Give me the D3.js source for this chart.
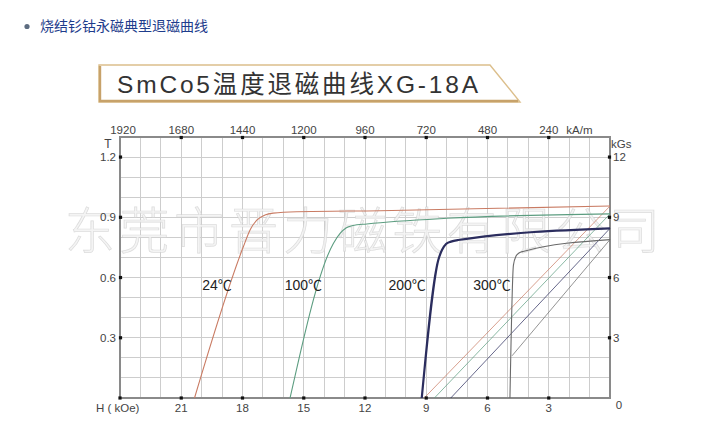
<!DOCTYPE html>
<html><head><meta charset="utf-8">
<script src="https://cdn.jsdelivr.net/npm/d3@7"></script>
<style>
html,body{margin:0;padding:0;background:#fff;}
svg{display:block;}
</style></head>
<body>
<svg id="c" width="722" height="439"></svg>
<script>
// ---- data ----
const hMajor = [24, 21, 18, 15, 12, 9, 6, 3, 0];
const topTickH = [24, 21, 18, 15, 12, 9, 6, 3];
const topTickLabels = ["1920", "1680", "1440", "1200", "960", "720", "480", "240"];
const bottomTickH = [21, 18, 15, 12, 9, 6, 3];
const bottomTickLabels = ["21", "18", "15", "12", "9", "6", "3"];
const leftTicks = [1.2, 0.9, 0.6, 0.3];
const leftTickLabels = ["1.2", "0.9", "0.6", "0.3"];
const rightTicksKGs = [12, 9, 6, 3];
const rightTickLabels = ["12", "9", "6", "3"];

const temps = ["24℃", "100℃", "200℃", "300℃"];
const tempLabelH = [19.25, 15.02, 9.94, 5.78];
const tempLabelB = [0.563, 0.563, 0.563, 0.563];

// intrinsic (J-H) demagnetization curves [H kOe, B T]
const intrinsic24 = [[20.35,0],[17.96,0.753],[17.63,0.837],[17.3,0.886],[16.9,0.911],[16.5,0.921],[15.34,0.928],[11.26,0.933],[0,0.956]];
const intrinsic100 = [[15.67,0],[13.55,0.77],[13.22,0.82],[12.93,0.847],[12.59,0.859],[11.91,0.867],[8.0,0.895],[0,0.917]];
const intrinsic200 = [[9.22,0],[8.41,0.687],[8.23,0.737],[8.03,0.767],[7.79,0.779],[7.44,0.787],[0,0.845]];
const intrinsic300 = [[4.9,0],[4.73,0.662],[4.6,0.707],[4.46,0.722],[4.26,0.73],[0,0.789]];
// normal (B-H) curves
const normal24 = [[9.1,0],[0,0.956]];
const normal100 = [[8.6,0],[0,0.917]];
const normal200 = [[7.8,0],[0,0.845]];
const normal300 = [[4.8,0.21],[0,0.789]];

const seriesColors = ["#c97b63", "#5c9d80", "#2b2d5e", "#6a6a6a"];
const seriesWidths = [1.1, 1.1, 2.2, 1.1];

// ---- drawing ----
const svg = d3.select("#c");
const x = d3.scaleLinear().domain([24, 0]).range([120, 610]);
const y = d3.scaleLinear().domain([0, 1.3]).range([398, 137]);
const sans = "'Liberation Sans', Arial, sans-serif";
const cjk = "'Noto Sans CJK SC', sans-serif";

// header
svg.append("circle").attr("cx", 27).attr("cy", 26.5).attr("r", 2.6).attr("fill", "#5d6c80");
svg.append("text").attr("x", 40).attr("y", 31).attr("font-family", cjk).attr("font-size", 14)
  .attr("fill", "#1e3c8c").text("烧结钐钴永磁典型退磁曲线");

// title banner
const banner = svg.append("g");
banner.append("path")
  .attr("d", "M99,65 L490,65 L520,102 L99,102 Z")
  .attr("fill", "#fff").attr("stroke", "#dcbf8c").attr("stroke-width", 1.4);
banner.append("path")
  .attr("d", "M100,66 L100,101 L518,101")
  .attr("fill", "none").attr("stroke", "#c7a26a").attr("stroke-width", 2.4);
banner.append("text").attr("x", 117).attr("y", 93)
  .attr("font-family", sans + ",'Noto Sans CJK SC'").attr("font-size", 24.5).attr("fill", "#333")
  .attr("textLength", 361).attr("lengthAdjust", "spacing")
  .text("SmCo5温度退磁曲线XG-18A");

// grid
const gridG = svg.append("g");
const vGrid = d3.range(0, 25, 1);
const hGrid = d3.range(0, 14, 1).map(d => d / 10);
gridG.selectAll("line.v").data(vGrid).join("line")
  .attr("x1", d => x(d)).attr("x2", d => x(d)).attr("y1", y(1.3)).attr("y2", y(0))
  .attr("stroke", "#cdcdcd").attr("stroke-width", 1).attr("shape-rendering", "crispEdges");
gridG.selectAll("line.h").data(hGrid).join("line")
  .attr("y1", d => y(d)).attr("y2", d => y(d)).attr("x1", x(24)).attr("x2", x(0))
  .attr("stroke", "#cdcdcd").attr("stroke-width", 1).attr("shape-rendering", "crispEdges");

// watermark (under curves)
svg.append("text").attr("x", 65).attr("y", 249)
  .attr("font-family", cjk).attr("font-weight", 300).attr("font-size", 50)
  .attr("textLength", 595).attr("lengthAdjust", "spacing")
  .attr("fill", "rgba(242,242,242,0.85)").attr("stroke", "rgba(205,205,205,0.65)").attr("stroke-width", 0.7)
  .text("东莞市晋力磁铁有限公司");

// frame
svg.append("rect").attr("x", x(24)).attr("y", y(1.3)).attr("width", x(0) - x(24)).attr("height", y(0) - y(1.3))
  .attr("fill", "none").attr("stroke", "#8a8a8a").attr("stroke-width", 1.2).attr("shape-rendering", "crispEdges");

// curves
const line = d3.line().x(d => x(d[0])).y(d => y(d[1])).curve(d3.curveMonotoneX);
const intrinsics = [intrinsic24, intrinsic100, intrinsic200, intrinsic300];
const normals = [normal24, normal100, normal200, normal300];
const curvesG = svg.append("g");
normals.forEach((s, i) => {
  curvesG.append("path").attr("d", d3.line().x(d => x(d[0])).y(d => y(d[1]))(s))
    .attr("fill", "none").attr("stroke", seriesColors[i]).attr("stroke-width", 0.8).attr("opacity", 0.9);
});
intrinsics.forEach((s, i) => {
  curvesG.append("path").attr("d", line(s))
    .attr("fill", "none").attr("stroke", seriesColors[i]).attr("stroke-width", seriesWidths[i]);
});

// temperature labels
svg.selectAll("text.temp").data(temps).join("text")
  .attr("x", (d, i) => x(tempLabelH[i])).attr("y", (d, i) => y(tempLabelB[i]) + 5)
  .attr("text-anchor", "middle").attr("font-family", sans + ",'Noto Sans CJK SC'").attr("font-size", 14)
  .attr("fill", "#222").text(d => d);

// tick squares
const sq = 3.2;
const tickG = svg.append("g").attr("fill", "#111");
tickG.selectAll("rect.t").data(topTickH.slice(1)).join("rect")
  .attr("x", d => x(d) - sq / 2).attr("y", y(1.3) - sq / 2 + 0.5).attr("width", sq).attr("height", sq);
tickG.selectAll("rect.b").data(hMajor.slice(0, 8)).join("rect")
  .attr("x", d => x(d) - sq / 2).attr("y", y(0) - sq / 2).attr("width", sq).attr("height", sq);
tickG.selectAll("rect.l").data(leftTicks).join("rect")
  .attr("x", x(24) - sq / 2 + 0.5).attr("y", d => y(d) - sq / 2).attr("width", sq).attr("height", sq);
tickG.selectAll("rect.r").data(rightTicksKGs).join("rect")
  .attr("x", x(0) - sq / 2 - 0.5).attr("y", d => y(d / 10) - sq / 2).attr("width", sq).attr("height", sq);

// axis labels
const lab = svg.append("g").attr("font-family", sans).attr("font-size", 11.5).attr("fill", "#444");
lab.selectAll("text.top").data(topTickLabels).join("text")
  .attr("x", (d, i) => x(topTickH[i]) + (i === 0 ? 3 : 0)).attr("y", 134).attr("text-anchor", "middle").text(d => d);
lab.append("text").attr("x", x(1.5)).attr("y", 134).attr("text-anchor", "middle").text("kA/m");
lab.selectAll("text.bot").data(bottomTickLabels).join("text")
  .attr("x", (d, i) => x(bottomTickH[i])).attr("y", 412).attr("text-anchor", "middle").text(d => d);
lab.append("text").attr("x", 96).attr("y", 412).text("H ( kOe)");
lab.append("text").attr("x", 619).attr("y", 409).attr("text-anchor", "middle").text("0");
lab.selectAll("text.left").data(leftTickLabels).join("text")
  .attr("x", 116).attr("y", (d, i) => y(leftTicks[i]) + 4).attr("text-anchor", "end").text(d => d);
lab.append("text").attr("x", 108).attr("y", 148).attr("text-anchor", "middle").attr("font-size", 12).text("T");
lab.selectAll("text.right").data(rightTickLabels).join("text")
  .attr("x", 613).attr("y", (d, i) => y(rightTicksKGs[i] / 10) + 4).text(d => d);
lab.append("text").attr("x", 611).attr("y", 148).text("kGs");
</script>
</body></html>
